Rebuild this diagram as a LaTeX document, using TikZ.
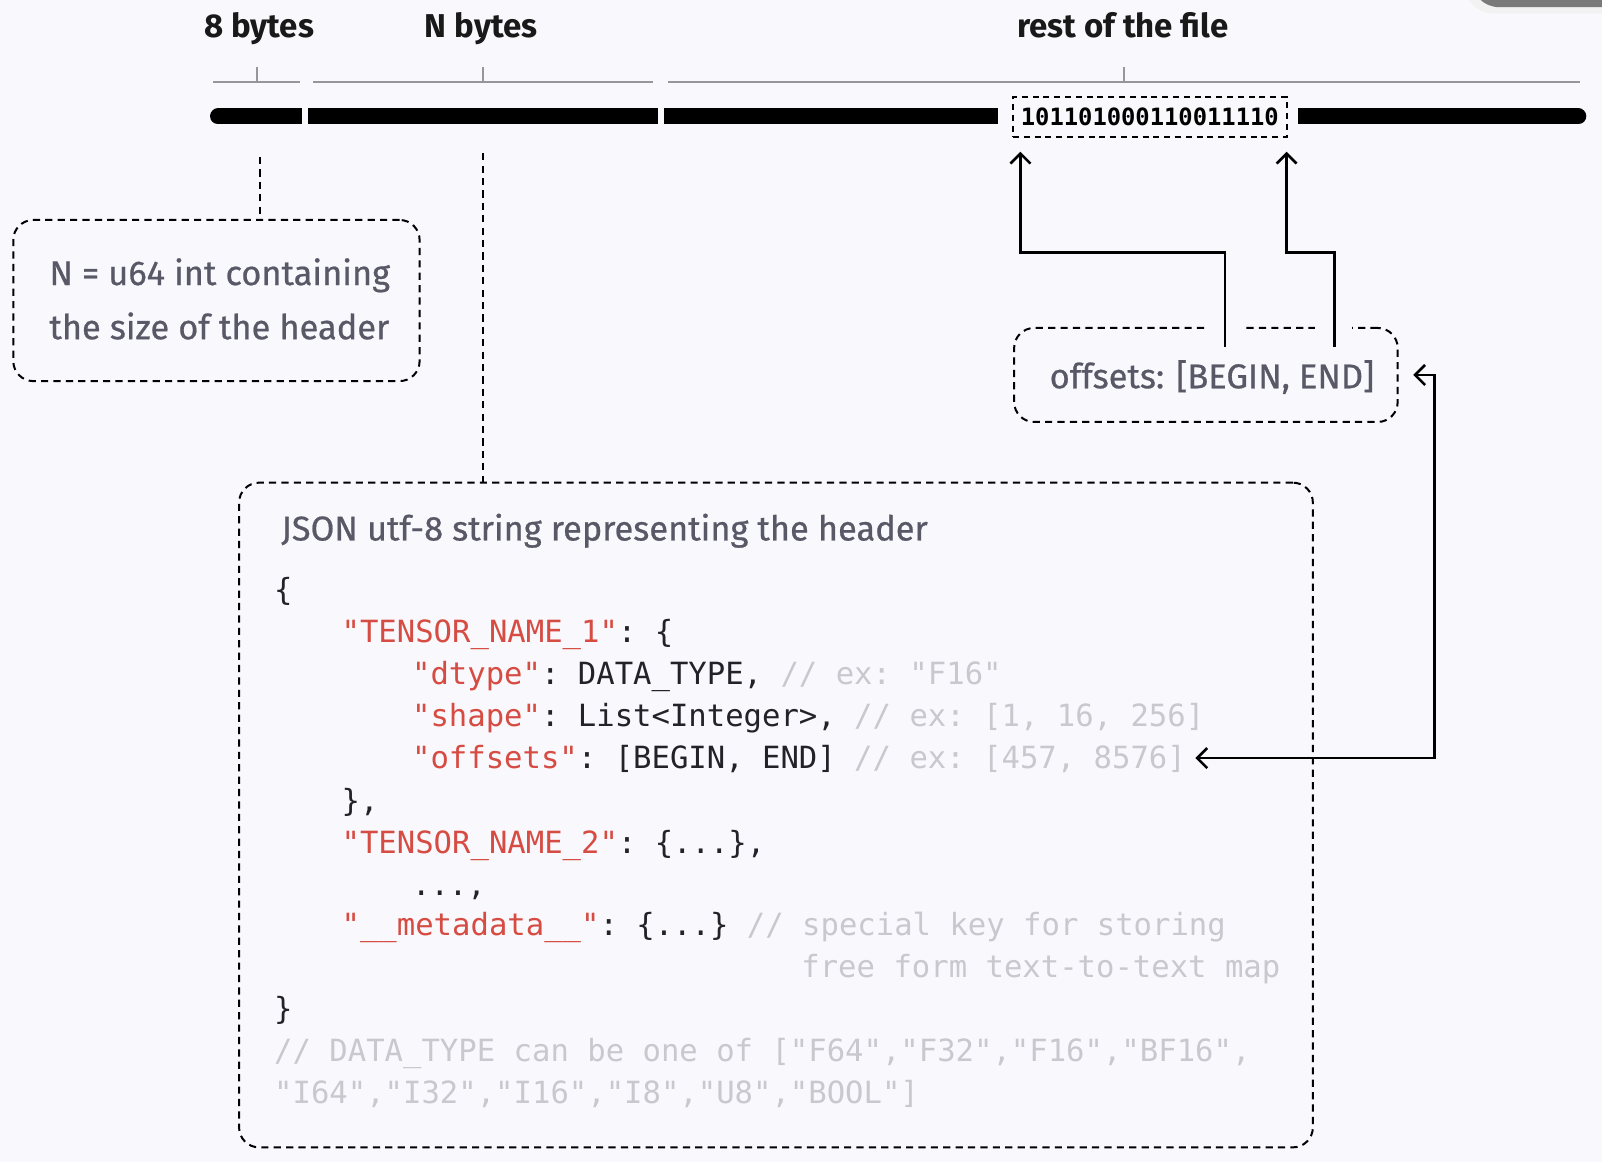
\documentclass[tikz,border=0pt]{standalone}
\usepackage{fontspec}
\setmainfont{Fira Sans}
\setmonofont{DejaVu Sans Mono}
\newfontfamily\notefont{Fira Sans}[FakeBold=0.6]
\usetikzlibrary{arrows.meta,fit}

\definecolor{bgcol}{RGB}{248,248,253}
\definecolor{notegray}{RGB}{88,88,102}
\definecolor{keyred}{RGB}{214,76,66}
\definecolor{codeblack}{RGB}{34,34,40}
\definecolor{commentgray}{RGB}{200,200,206}
\definecolor{bracketgray}{RGB}{150,150,155}
\definecolor{cornergray}{RGB}{122,122,122}

\tikzset{
  dashbox/.style={draw=black, line width=1pt, dash pattern=on 3.6pt off 2.6pt, rounded corners=10pt, inner sep=0pt},
  bitsbox/.style={draw=black, line width=1pt, dash pattern=on 3pt off 2.4pt, inner sep=0pt},
  dashline/.style={draw=black, line width=1pt, dash pattern=on 3.6pt off 2.6pt},
  toplabel/.style={font=\fontsize{16.5}{20}\selectfont\bfseries, text=black!90, anchor=base, inner sep=0pt},
  note/.style={font=\notefont\fontsize{17.2}{20}\selectfont, text=notegray, anchor=base west, inner sep=0pt},
  code/.style={font=\ttfamily\fontsize{15.3}{18}\selectfont, text=codeblack, anchor=base west, inner sep=0pt},
  bar/.style={line width=8pt},
  bracket/.style={draw=bracketgray, line width=1pt},
  link/.style={line width=1.3pt, -{Straight Barb[length=5pt,width=10pt]}},
  twolink/.style={line width=1.3pt, {Straight Barb[length=5pt,width=10pt]}-{Straight Barb[length=5pt,width=10pt]}},
}
\newcommand{\key}[1]{\textcolor{keyred}{#1}}
\newcommand{\cmt}[1]{\textcolor{commentgray}{#1}}

\begin{document}
\begin{tikzpicture}[x=0.5109pt,y=-0.5109pt]
    \clip (0,0) rectangle (1568,1137);
    \fill[bgcol] (0,0) rectangle (1568,1137);

    % corner of a window
    \fill[black!5, rounded corners=14] (1434,-40) rectangle (1620,13);
    \fill[cornergray, rounded corners=14] (1440,-40) rectangle (1620,7);

    % Etiquetas superiores
    \node[toplabel] (lbl8) at (253.5,37) {8 bytes};
    \node[toplabel] (lblN) at (471,37) {N bytes};
    \node[toplabel] (lblrest) at (1099,37) {rest of the file};

    % Llaves
    \draw[bracket] (208.7,80) -- (293.6,80);
    \draw[bracket] (251.2,66) -- (251.2,80);
    \draw[bracket] (306.7,80) -- (638.8,80);
    \draw[bracket] (472.8,66) -- (472.8,80);
    \draw[bracket] (654,80) -- (1546.6,80);
    \draw[bracket] (1100.3,66) -- (1100.3,80);

    % Archivo
    \draw[bar, line cap=round] (213.4,114) -- (240,114);
    \draw[bar] (225,114) -- (296,114);
    \draw[bar] (301.5,114) -- (644.5,114);
    \draw[bar] (650,114) -- (976.5,114);
    \draw[bar] (1270.7,114) -- (1530,114);
    \draw[bar, line cap=round] (1520,114) -- (1544.8,114);
    \node[bitsbox, fit={(991.5,95) (1259.3,134)}] (bits) {};
    \node[font=\ttfamily\bfseries\fontsize{11.9}{14}\selectfont] at (bits.center) {101101000110011110};

    % Cajas
    \node[dashbox, fit={(13,215.3) (410.7,373)}] (sizebox) {};
    \node[note] (size1) at (48,279) {N = u64 int containing};
    \node[note] (size2) at (48,332) {the size of the header};

    \node[dashbox, fit={(992.6,321) (1368,413)}] (offbox) {};
    \fill[bgcol] (1181,314) rectangle (1218,328);
    \fill[bgcol] (1287,314) rectangle (1323,328);
    \node[note] (offtext) at (1027,380) {offsets: [BEGIN, END]};

    \node[dashbox, fit={(234,472.4) (1285,1123)}] (jsonbox) {};
    \node[note] (jsontitle) at (275,529) {JSON utf-8 string representing the header};

    % Codigo
    \node[code] at (268,588) {\{};
    \node[code] at (334,629) {\key{"TENSOR\_NAME\_1"}: \{};
    \node[code] at (403,670) {\key{"dtype"}: DATA\_TYPE, \cmt{// ex: "F16"}};
    \node[code] at (403,711) {\key{"shape"}: List<Integer>, \cmt{// ex: [1, 16, 256]}};
    \node[code] (offline) at (403,752) {\key{"offsets"}: [BEGIN, END] \cmt{// ex: [457, 8576]}};
    \node[code] at (334,794) {\},};
    \node[code] at (334,835) {\key{"TENSOR\_NAME\_2"}: \{...\},};
    \node[code] at (403,876) {...,};
    \node[code] at (334,916) {\key{"\_\_metadata\_\_"}: \{...\} \cmt{// special key for storing}};
    \node[code] at (784,957) {\cmt{free form text-to-text map}};
    \node[code] at (268,998) {\}};
    \node[code] at (268,1039) {\cmt{// DATA\_TYPE can be one of ["F64","F32","F16","BF16",}};
    \node[code] at (268,1080) {\cmt{"I64","I32","I16","I8","U8","BOOL"]}};

    % Conectores
    \coordinate (p8) at (254,153.6);
    \coordinate (pN) at (472.8,150);
    \draw[dashline] (p8) -- (p8 |- sizebox.north);
    \draw[dashline] (pN) -- (pN |- jsonbox.north);

    \coordinate (beginsrc) at (1199,339.5);
    \coordinate (endsrc) at (1306,339.5);
    \coordinate (beginpt) at (998.8,148.5);
    \coordinate (endpt) at (1259.3,148.5);
    \draw[link] (beginsrc) -- ++(0,-92.6) -| (beginpt);
    \draw[link] (endsrc) -- ++(0,-92.6) -| (endpt);

    \coordinate (offcode) at (1170,742);
    \coordinate (turn) at (1404,742);
    \draw[twolink] (offcode) -- (turn) |- ([xshift=7.3pt]offbox.east);
\end{tikzpicture}
\end{document}
